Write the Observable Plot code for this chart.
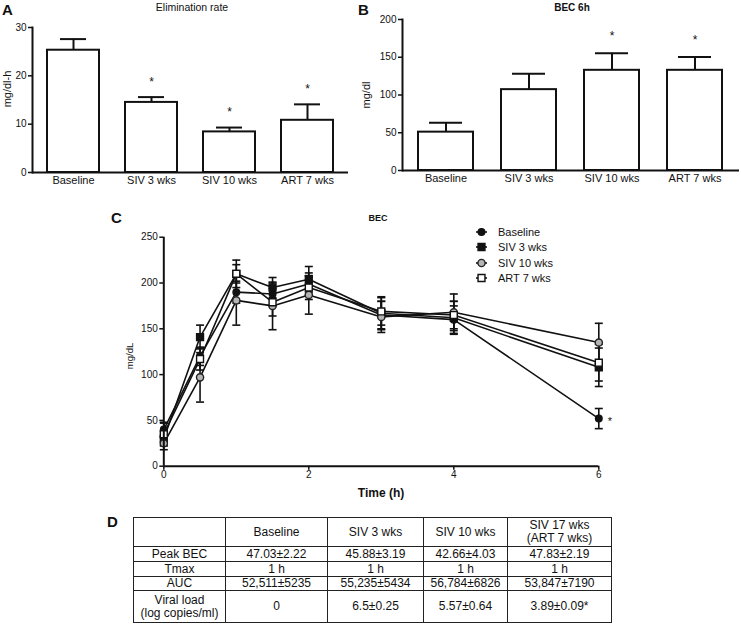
<!DOCTYPE html>
<html><head><meta charset="utf-8">
<script src="https://cdn.jsdelivr.net/npm/d3@7"></script>
<script src="https://cdn.jsdelivr.net/npm/@observablehq/plot@0.6"></script>
<style>
body{margin:0;background:#fff;}
#fig{position:relative;width:741px;height:625px;background:#fff;font-family:"Liberation Sans",Arial,sans-serif;color:#111;overflow:hidden;}
.abs{position:absolute;}
#tbl{border-collapse:collapse;font-size:12px;table-layout:fixed;color:#111;}
#tbl td{border:1px solid #222;text-align:center;padding:0;line-height:13px;white-space:pre;overflow:hidden;}
</style></head><body><div id="fig"></div>
<script>
// ---------- data ----------
const groups = ["Baseline", "SIV 3 wks", "SIV 10 wks", "ART 7 wks"];
// Panel A: elimination rate (mg/dl-h)
const elimRate = [25.3, 14.5, 8.4, 10.8];
const elimSem = [2.3, 1.1, 0.9, 3.3];
const elimSig = [false, true, true, true];
const elimTicks = [0, 10, 20, 30];
// Panel B: BEC at 6h (mg/dl)
const bec6h = [50.8, 107.1, 132.7, 132.7];
const bec6hSem = [12.5, 21.2, 22.6, 17.7];
const bec6hSig = [false, false, true, true];
const bec6hTicks = [0, 50, 100, 150, 200];
// Panel C: BEC time course (mg/dL)
const times = [0, 0.5, 1, 1.5, 2, 3, 4, 6];
const series = ["Baseline", "SIV 3 wks", "SIV 10 wks", "ART 7 wks"];
const becBaseline = [40, 120, 190, 188, 199, 165, 160, 52];
const semBaseline = [8, 10, 12, 12, 12, 15, 15, 11];
const becSiv3 = [30, 141, 210, 195, 204, 167, 162, 108];
const semSiv3 = [8, 13, 15, 11, 14, 18, 18, 21];
const becSiv10 = [25, 97, 181, 175, 187, 163, 168, 135];
const semSiv10 = [7, 27, 27, 26, 21, 17, 20, 21];
const becArt = [35, 117, 210, 179, 195, 169, 165, 113];
const semArt = [12, 12, 10, 15, 13, 15, 15, 20];
const becSig6h = [true, false, false, false];
const becXTicks = [0, 2, 4, 6];
const becYTicks = [0, 50, 100, 150, 200, 250];
// Panel D: table
const tableHeader = ["", "Baseline", "SIV 3 wks", "SIV 10 wks", "SIV 17 wks\n(ART 7 wks)"];
const tableRowNames = ["Peak BEC", "Tmax", "AUC", "Viral load\n(log copies/ml)"];
const peakBEC = ["47.03±2.22", "45.88±3.19", "42.66±4.03", "47.83±2.19"];
const tmax = ["1 h", "1 h", "1 h", "1 h"];
const auc = ["52,511±5235", "55,235±5434", "56,784±6826", "53,847±7190"];
const viralLoad = ["0", "6.5±0.25", "5.57±0.64", "3.89±0.09*"];

// ---------- helpers ----------
const FONT = '"Liberation Sans", Arial, sans-serif';
const INK = "#111";
const fig = document.getElementById("fig");
function place(node, left, top, w) {
  const d = document.createElement("div");
  d.className = "abs"; d.style.left = left + "px"; d.style.top = top + "px";
  if (w) d.style.width = w + "px";
  d.appendChild(node); fig.appendChild(d); return d;
}

function barChart(o) {
  const data = groups.map((g, i) => ({g, v: o.values[i], e: o.sems[i], s: o.sigs[i]}));
  return Plot.plot({
    width: o.width, height: o.height,
    marginTop: o.mt, marginBottom: o.mb, marginLeft: o.ml, marginRight: o.mr,
    style: {fontFamily: FONT, fontSize: "10px", color: INK, background: "transparent"},
    x: {domain: groups, paddingInner: 0.335, paddingOuter: o.po, label: null},
    y: {domain: [0, o.ticks[o.ticks.length - 1]], label: null},
    marks: [
      Plot.barY(data, {x: "g", y: "v", fill: "white", stroke: INK, strokeWidth: 2}),
      Plot.ruleX(data, {x: "g", y1: "v", y2: d => d.v + d.e, stroke: INK, strokeWidth: 2}),
      Plot.tickY(data, {x: "g", y: d => d.v + d.e, stroke: INK, strokeWidth: 2, insetLeft: o.capInset, insetRight: o.capInset}),
      Plot.text(data.filter(d => d.s), {x: "g", y: d => d.v + d.e, text: () => "*", dy: o.starDy, fontSize: 12}),
      Plot.axisY({ticks: o.ticks, tickSize: 4, tickPadding: 2, fontSize: 10, strokeWidth: 1.5, label: null}),
      Plot.axisX({tickSize: 0, tickPadding: 4, fontSize: 11, label: null}),
      Plot.frame({anchor: "left", stroke: INK, strokeWidth: 2}),
      Plot.ruleY([0], {stroke: INK, strokeWidth: 2})
    ]
  });
}

// ---------- Panel A ----------
place(barChart({values: elimRate, sems: elimSem, sigs: elimSig, ticks: elimTicks,
  width: 370, height: 195, mt: 27, mb: 23, ml: 32, mr: 22, po: 0.19, capInset: 13, starDy: -15}), 0, 0, 370);
// ---------- Panel B ----------
place(barChart({values: bec6h, sems: bec6hSem, sigs: bec6hSig, ticks: bec6hTicks,
  width: 371, height: 195, mt: 19, mb: 25, ml: 32, mr: 2, po: 0.175, capInset: 11, starDy: -17}), 370, 0, 371);

// ---------- Panel C ----------
const becVals = [becBaseline, becSiv3, becSiv10, becArt];
const becSems = [semBaseline, semSiv3, semSiv10, semArt];
const pts = [];
series.forEach((s, si) => times.forEach((t, i) => pts.push({s, si, t, v: becVals[si][i], e: becSems[si][i]})));
const capSymbol = {draw(ctx) { ctx.moveTo(-4, 0); ctx.lineTo(4, 0); }};
const seriesStyle = [
  {symbol: "circle", r: 3.3, fill: INK, stroke: INK},
  {symbol: "square", r: 3.9, fill: INK, stroke: INK},
  {symbol: "circle", r: 3.6, fill: "#b5b5b5", stroke: "#222"},
  {symbol: "square", r: 3.9, fill: "white", stroke: INK}
];
const cMarks = [
  Plot.line(pts, {x: "t", y: "v", z: "s", stroke: INK, strokeWidth: 1.6}),
  Plot.ruleX(pts, {x: "t", y1: d => d.v - d.e, y2: d => d.v + d.e, stroke: INK, strokeWidth: 1.6}),
  Plot.dot(pts, {x: "t", y: d => d.v + d.e, symbol: capSymbol, r: 4, fill: "none", stroke: INK, strokeWidth: 1.6}),
  Plot.dot(pts, {x: "t", y: d => d.v - d.e, symbol: capSymbol, r: 4, fill: "none", stroke: INK, strokeWidth: 1.6})
];
seriesStyle.forEach((st, si) => cMarks.push(
  Plot.dot(pts.filter(d => d.si === si), {x: "t", y: "v", symbol: st.symbol, r: st.r, fill: st.fill, stroke: st.stroke, strokeWidth: 1.4})
));
cMarks.push(
  Plot.text(pts.filter(d => d.t === 6 && becSig6h[d.si]), {x: "t", y: "v", text: () => "*", dx: 11, dy: 3, fontSize: 11}),
  Plot.axisY({ticks: becYTicks, tickSize: 4, tickPadding: 2, fontSize: 10, strokeWidth: 1.5, label: null}),
  Plot.axisX({ticks: becXTicks, tickFormat: d3.format("d"), tickSize: 4, tickPadding: 1, fontSize: 10, strokeWidth: 1.5, label: null}),
  Plot.ruleX([0], {stroke: INK, strokeWidth: 2}),
  Plot.ruleY([0], {stroke: INK, strokeWidth: 2})
);
place(Plot.plot({
  width: 520, height: 280, marginTop: 11.7, marginBottom: 39.3, marginLeft: 63.3, marginRight: 21.7,
  style: {fontFamily: FONT, fontSize: "10px", color: INK, background: "transparent"},
  x: {domain: [0, 6], label: null},
  y: {domain: [0, 250], label: null},
  marks: cMarks
}), 100, 225, 520);

// ---------- overlay texts & legend ----------
const ov = d3.select(fig).append("svg").attr("width", 741).attr("height", 625)
  .style("position", "absolute").style("left", 0).style("top", 0)
  .style("font-family", FONT).attr("fill", INK);
function txt(s, x, y, size, weight, anchor, rot) {
  const t = ov.append("text").text(s).attr("font-size", size).attr("font-weight", weight || "normal")
    .attr("text-anchor", anchor || "start");
  if (rot) t.attr("transform", `translate(${x},${y}) rotate(-90)`).attr("dy", "0.35em");
  else t.attr("x", x).attr("y", y);
}
txt("A", 2, 15, 15, "bold");
txt("Elimination rate", 192, 10.5, 10.5, "normal", "middle");
txt("mg/dl-h", 7, 89, 11, "normal", "middle", true);
txt("B", 358, 15, 15, "bold");
txt("BEC 6h", 572, 11, 10, "bold", "middle");
txt("mg/dl", 366, 95, 11, "normal", "middle", true);
txt("C", 111, 223, 15, "bold");
txt("BEC", 378, 221, 9, "bold", "middle");
txt("mg/dL", 130, 356, 9.5, "normal", "middle", true);
txt("Time (h)", 381, 497, 12, "bold", "middle");
txt("D", 107, 527, 15, "bold");

const legY = [232, 247, 263, 278];
series.forEach((s, i) => {
  const y = legY[i], st = seriesStyle[i];
  ov.append("line").attr("x1", 476).attr("x2", 487).attr("y1", y).attr("y2", y).attr("stroke", INK).attr("stroke-width", 1.6);
  ov.append("path").attr("d", d3.symbol().type(st.symbol === "square" ? d3.symbolSquare : d3.symbolCircle).size(Math.PI * st.r * st.r)())
    .attr("transform", `translate(481.5,${y})`).attr("fill", st.fill).attr("stroke", st.stroke).attr("stroke-width", 1.4);
  txt(s, 498, y + 4, 11, "normal");
});

// ---------- Panel D table ----------
const colW = [92, 102, 96, 84, 104];
const rowH = [29, 15, 15, 14, 32];
const bodyRows = [peakBEC, tmax, auc, viralLoad];
const tbl = document.createElement("table");
tbl.id = "tbl";
tbl.style.width = d3.sum(colW) + "px";
const cg = document.createElement("colgroup");
colW.forEach(w => { const c = document.createElement("col"); c.style.width = w + "px"; cg.appendChild(c); });
tbl.appendChild(cg);
const allRows = [tableHeader].concat(tableRowNames.map((n, i) => [n].concat(bodyRows[i])));
allRows.forEach((r, ri) => {
  const tr = document.createElement("tr");
  tr.style.height = rowH[ri] + "px";
  r.forEach(c => { const td = document.createElement("td"); td.textContent = c; td.style.height = (rowH[ri] - 1) + "px"; tr.appendChild(td); });
  tbl.appendChild(tr);
});
place(tbl, 133, 517);
</script></body></html>
